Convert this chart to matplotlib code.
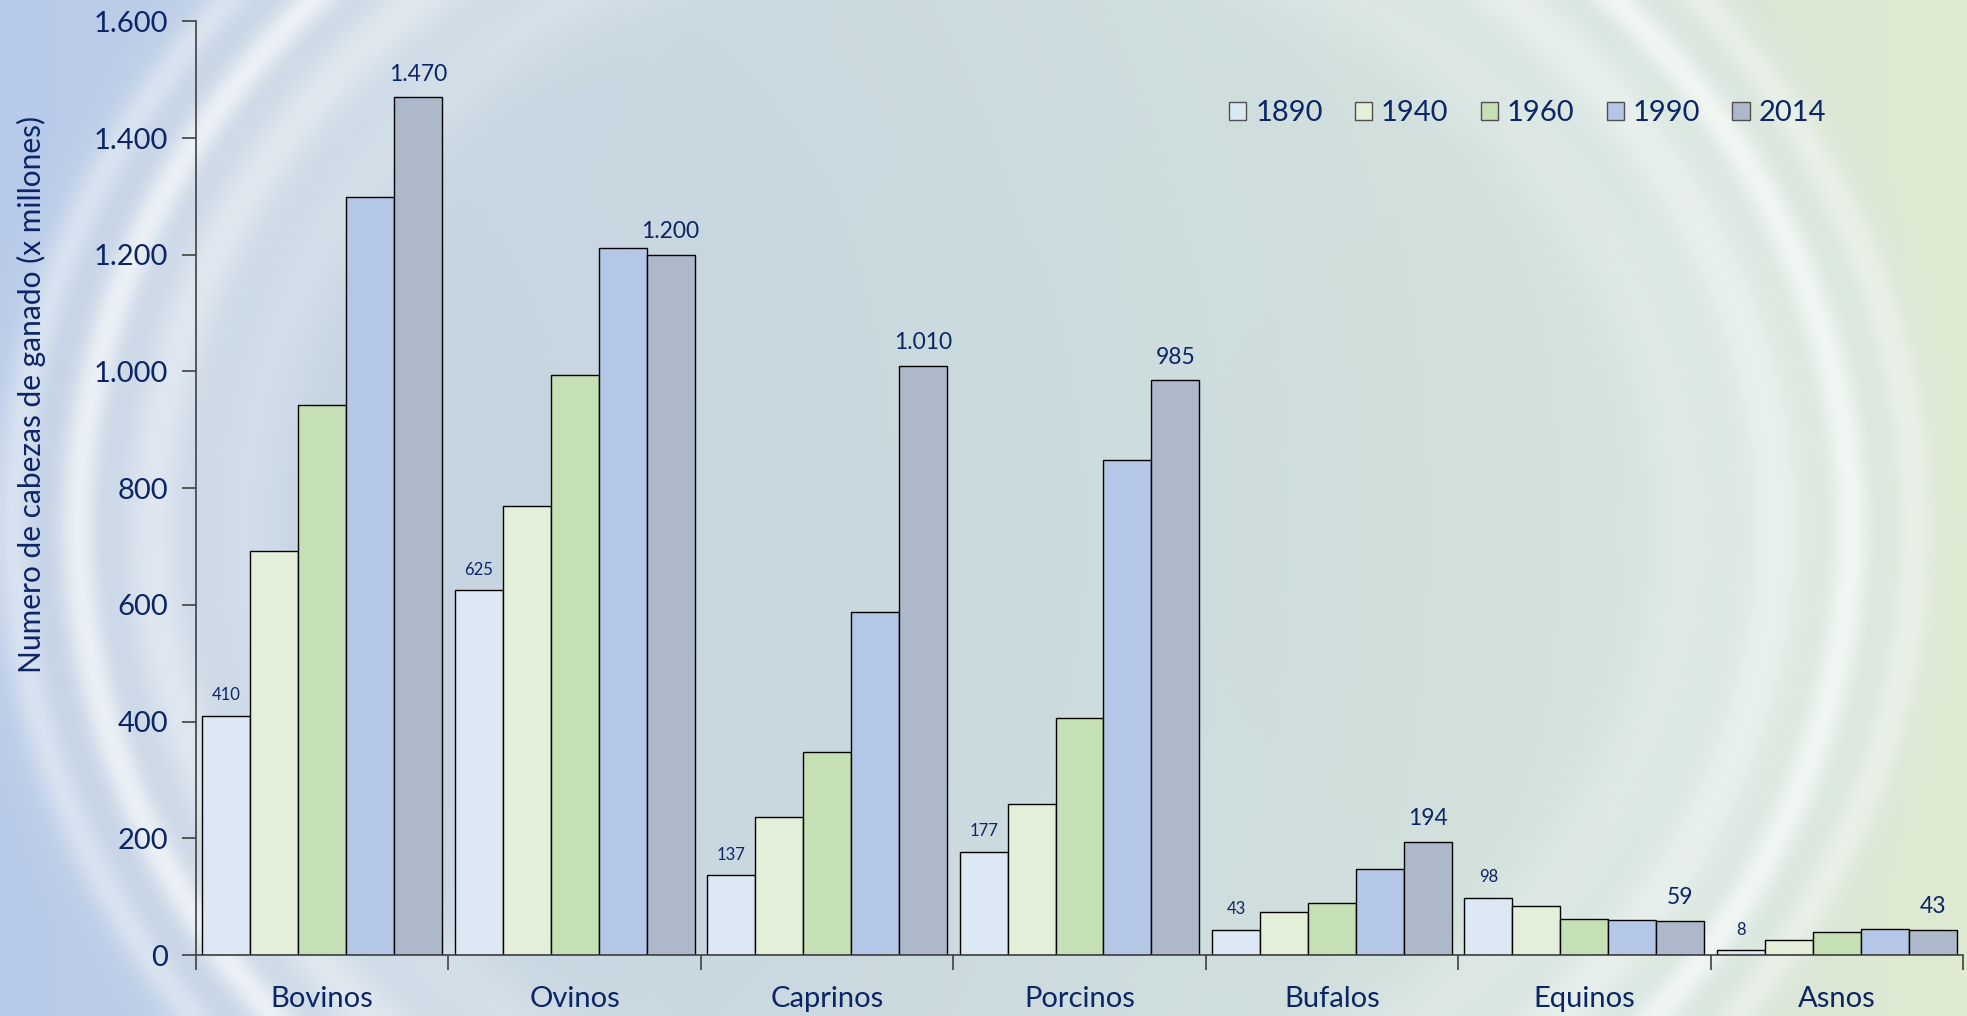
import numpy as np
import matplotlib.pyplot as plt
from matplotlib.ticker import FuncFormatter
from matplotlib.patches import Patch

# datos (millones de cabezas)
categorias = ['Bovinos', 'Ovinos', 'Caprinos', 'Porcinos', 'Bufalos', 'Equinos', 'Asnos']
anios = ['1890', '1940', '1960', '1990', '2014']
v1890 = [410, 625, 137, 177, 43, 98, 8]
v1940 = [692, 770, 237, 258, 73, 84, 26]
v1960 = [942, 994, 348, 406, 90, 62, 39]
v1990 = [1299, 1211, 587, 849, 148, 60, 45]
v2014 = [1470, 1200, 1010, 985, 194, 59, 43]
series = [v1890, v1940, v1960, v1990, v2014]
colores = ['#dde8f5', '#e3efd9', '#c5e0b4', '#b4c7e7', '#adb9ca']

azul = '#0b2566'
plt.rcParams['font.family'] = ['Lato', 'DejaVu Sans']

fig = plt.figure(figsize=(19.67, 10.16), dpi=100)

# fondo degradado con arcos claros
bg = fig.add_axes([0, 0, 1, 1], zorder=-10)
H, W = 254, 492
yy, xx = np.mgrid[0:H, 0:W]
u = xx / (W - 1)
v = yy / (H - 1)
c_izq = np.array([0.75, 0.81, 0.89])
c_der = np.array([0.84, 0.90, 0.85])
t = np.clip(u, 0, 1)[..., None]
base = c_izq * (1 - t) + c_der * t
d = np.sqrt(((u - 0.49) / 0.47) ** 2 + ((v - 0.52) / 0.80) ** 2)
# esquinas exteriores
out = np.clip((d - 0.98) / 0.12, 0, 1)[..., None]
c_out = np.array([0.69, 0.77, 0.91]) * (1 - t) + np.array([0.86, 0.91, 0.80]) * t
img = base * (1 - out) + c_out * out
# arcos blancos
ring = (0.20 * np.exp(-((d - 0.78) / 0.05) ** 2)
        + 0.40 * np.exp(-((d - 0.88) / 0.035) ** 2)
        + 0.60 * np.exp(-((d - 0.96) / 0.02) ** 2)
        + 0.35 * np.exp(-((d - 1.03) / 0.02) ** 2))
inner = 0.10 * np.clip(d, 0, 1) ** 2
w = np.clip(ring + inner, 0, 0.85)[..., None]
img = img * (1 - w) + 1.0 * w
bg.imshow(img, extent=[0, 1, 0, 1], aspect='auto', interpolation='bicubic', origin='upper')
bg.axis('off')

ax = fig.add_axes([0.0996, 0.060, 0.8984, 0.919])
ax.patch.set_alpha(0)

x = np.arange(len(categorias))
ancho = 0.19
for i, (vals, col) in enumerate(zip(series, colores)):
    pos = x + (i - 2) * ancho
    ax.bar(pos, vals, ancho, color=col, edgecolor='black', linewidth=1.0, label=anios[i])

def fmt(val, p=None):
    return f'{int(val):,}'.replace(',', '.')

# etiquetas de la primera y la ultima serie
for j in range(len(categorias)):
    ax.annotate(fmt(v1890[j]), (x[j] - 2 * ancho, v1890[j]), xytext=(0, 9),
                textcoords='offset points', ha='center', va='bottom',
                fontsize=12, color=azul)
    ax.annotate(fmt(v2014[j]), (x[j] + 2 * ancho, v2014[j]), xytext=(0, 9),
                textcoords='offset points', ha='center', va='bottom',
                fontsize=16.5, color=azul)

ax.set_xlim(-0.5, len(categorias) - 0.5)
ax.set_ylim(0, 1600)
ax.set_yticks(range(0, 1601, 200))
ax.yaxis.set_major_formatter(FuncFormatter(fmt))
ax.set_ylabel('Numero de cabezas de ganado (x millones)', fontsize=21.5, color=azul)
ax.yaxis.set_label_coords(-0.085, 0.60)

ax.set_xticks(np.arange(-0.5, len(categorias), 1.0))
ax.set_xticklabels([])
ax.set_xticks(x, minor=True)
ax.set_xticklabels(categorias, minor=True)
ax.tick_params(axis='x', which='major', length=11, width=1.2, color='#404040', direction='out')
ax.tick_params(axis='x', which='minor', length=0, pad=22, labelsize=21, labelcolor=azul)
ax.tick_params(axis='y', length=10, width=1.2, color='#404040', labelsize=21,
               labelcolor=azul, pad=10)

for s in ['top', 'right']:
    ax.spines[s].set_visible(False)
for s in ['left', 'bottom']:
    ax.spines[s].set_color('#404040')
    ax.spines[s].set_linewidth(1.2)

handles = [Patch(facecolor=c, edgecolor='#505050', linewidth=1.0) for c in colores]
ax.legend(handles, anios, ncol=5, loc='upper left', bbox_to_anchor=(0.578, 0.928),
          borderaxespad=0, frameon=False, fontsize=21, labelcolor=azul,
          handlelength=0.6, handleheight=0.6, handletextpad=0.3, columnspacing=1.1)

plt.savefig('out.png', dpi=100)
